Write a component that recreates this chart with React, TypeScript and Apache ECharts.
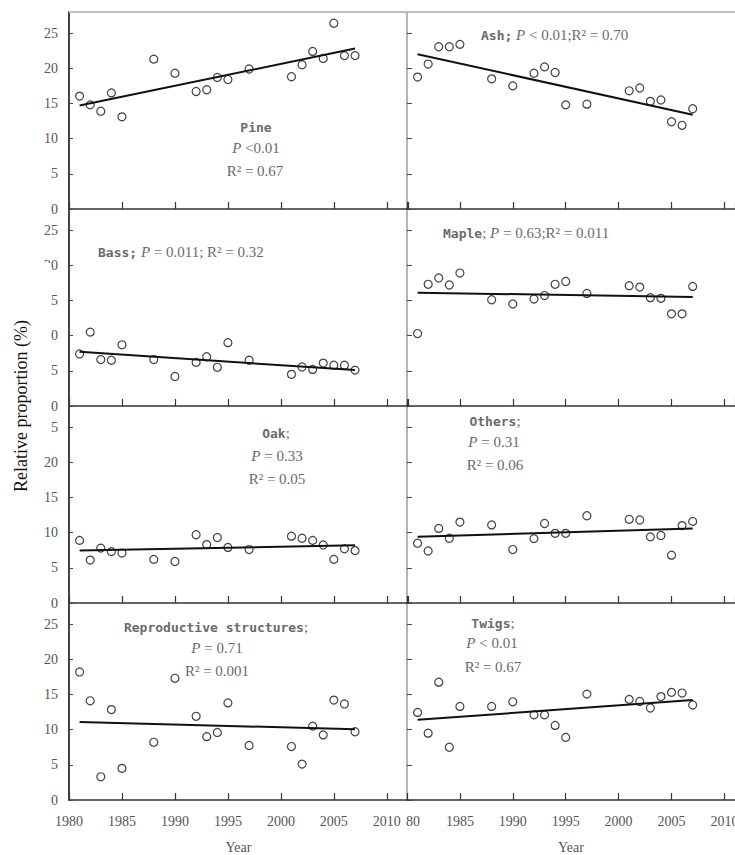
import React, { useEffect, useRef } from "react";
import * as echarts from "echarts";

const years = [1981, 1982, 1983, 1984, 1985, 1988, 1990, 1992, 1993, 1994, 1995, 1997, 2001, 2002, 2003, 2004, 2005, 2006, 2007];
const fitYears = [1981, 2007];

const pine = [16.05, 14.8, 13.9, 16.5, 13.1, 21.3, 19.3, 16.7, 16.95, 18.7, 18.4, 19.9, 18.8, 20.5, 22.4, 21.4, 26.4, 21.8, 21.8];
const pineFit = [14.7, 22.8];
const ash = [18.75, 20.6, 23.06, 23.06, 23.4, 18.5, 17.5, 19.3, 20.2, 19.4, 14.8, 14.9, 16.8, 17.2, 15.3, 15.5, 12.4, 11.9, 14.25];
const ashFit = [22.0, 13.4];
const bass = [7.4, 10.5, 6.6, 6.5, 8.7, 6.6, 4.2, 6.2, 7.0, 5.5, 9.0, 6.5, 4.5, 5.55, 5.2, 6.1, 5.8, 5.8, 5.1];
const bassFit = [7.7, 5.1];
const maple = [10.3, 17.3, 18.2, 17.2, 18.9, 15.1, 14.5, 15.2, 15.7, 17.3, 17.7, 16.0, 17.1, 16.9, 15.4, 15.3, 13.1, 13.1, 17.0];
const mapleFit = [16.1, 15.5];
const oak = [8.9, 6.1, 7.8, 7.3, 7.1, 6.2, 5.9, 9.7, 8.3, 9.3, 7.9, 7.6, 9.5, 9.2, 8.9, 8.25, 6.2, 7.7, 7.45];
const oakFit = [7.45, 8.2];
const others = [8.5, 7.4, 10.6, 9.2, 11.5, 11.1, 7.6, 9.15, 11.3, 9.9, 9.9, 12.4, 11.9, 11.8, 9.4, 9.6, 6.8, 11.0, 11.6];
const othersFit = [9.4, 10.6];
const repro = [18.2, 14.1, 3.3, 12.85, 4.5, 8.2, 17.3, 11.9, 9.0, 9.6, 13.8, 7.75, 7.6, 5.1, 10.5, 9.25, 14.2, 13.65, 9.7];
const reproFit = [11.1, 10.05];
const twigs = [12.45, 9.5, 16.75, 7.5, 13.3, 13.3, 13.96, 12.1, 12.1, 10.6, 8.9, 15.05, 14.3, 14.0, 13.07, 14.7, 15.3, 15.2, 13.5];
const twigsFit = [11.4, 14.2];

const panelValues = [pine, ash, bass, maple, oak, others, repro, twigs];
const panelFits = [pineFit, ashFit, bassFit, mapleFit, oakFit, othersFit, reproFit, twigsFit];

const yTicks = [0, 5, 10, 15, 20, 25];
const xLabelYears = [1980, 1985, 1990, 1995, 2000, 2005, 2010];

const SERIF = "'Liberation Serif', 'Times New Roman', serif";
const MONO = "'DejaVu Sans Mono', 'Liberation Mono', monospace";
const GRAY = "#6a6a6a";

export default function App() {
  const ref = useRef<HTMLDivElement>(null);

  useEffect(() => {
    if (!ref.current) return;
    const chart = echarts.init(ref.current, undefined, { renderer: "svg" });

    const grids: any[] = [];
    const xAxes: any[] = [];
    const yAxes: any[] = [];
    const series: any[] = [];

    for (let i = 0; i < 8; i++) {
      const row = Math.floor(i / 2);
      const col = i % 2;
      grids.push({
        left: col === 0 ? 69 : 407,
        top: 12 + row * 197,
        width: col === 0 ? 339 : 328,
        height: 197,
        containLabel: false,
        outerBoundsMode: "none",
      });
      xAxes.push({
        type: "value",
        gridIndex: i,
        min: 1980,
        max: col === 0 ? 2012 : 2011,
        interval: 5,
        axisLine: { show: true, lineStyle: { color: "#333", width: 1.5 } },
        axisTick: { show: true, inside: true, length: 7, lineStyle: { color: "#333", width: 1.2 } },
        splitLine: { show: false },
        axisLabel: {
          show: row === 3,
          margin: 14,
          color: "#555",
          fontFamily: SERIF,
          fontSize: 14,
          showMaxLabel: false,
          formatter: (v: number) => {
            if (!xLabelYears.includes(v)) return "";
            if (col === 1 && v === 1980) return "{s|80}";
            return String(v);
          },
          rich: { s: { padding: [0, 0, 0, 12], fontFamily: SERIF, fontSize: 14, color: "#555" } },
        },
        name: row === 3 ? "Year" : "",
        nameLocation: "middle",
        nameGap: 40,
        nameTextStyle: { fontFamily: SERIF, fontSize: 14, color: "#555" },
      });
      yAxes.push({
        type: "value",
        gridIndex: i,
        min: 0,
        max: 28,
        interval: 5,
        axisLine: { show: true, lineStyle: { color: col === 0 ? "#444" : "#b5b5b5", width: 2 } },
        axisTick: { show: true, inside: true, length: col === 0 ? 4 : 5, lineStyle: { color: "#444", width: 1 } },
        splitLine: { show: false },
        axisLabel: {
          show: col === 0,
          margin: 11,
          color: "#555",
          fontFamily: SERIF,
          fontSize: 14,
          showMaxLabel: false,
          formatter: (v: number) => (yTicks.includes(v) ? String(v) : ""),
        },
      });
      const vals = panelValues[i];
      series.push({
        type: "line",
        xAxisIndex: i,
        yAxisIndex: i,
        data: fitYears.map((y, k) => [y, panelFits[i][k]]),
        symbol: "none",
        lineStyle: { color: "#111", width: 2 },
        z: 2,
      });
      series.push({
        type: "scatter",
        xAxisIndex: i,
        yAxisIndex: i,
        data: years.map((y, k) => [y, vals[k]]),
        symbol: "circle",
        symbolSize: 8,
        itemStyle: { color: "rgba(255,255,255,0)", borderColor: "#111", borderWidth: 1.2 },
        z: 3,
      });
    }

    const rich = {
      b: { fontFamily: MONO, fontWeight: "bold", fontSize: 13, color: "#111" },
      p: { fontFamily: SERIF, fontStyle: "italic", fontSize: 15, color: GRAY },
      g: { fontFamily: SERIF, fontSize: 15, color: GRAY },
    };
    const txt = (x: number, y: number, text: string, align = "center") => ({
      type: "text",
      x,
      y,
      z: 50,
      style: { text, rich, align, verticalAlign: "middle", fontFamily: SERIF, fontSize: 15, fill: GRAY },
    });

    const graphic: any[] = [
      { type: "line", z: 40, shape: { x1: 69, y1: 12, x2: 735, y2: 12 }, style: { stroke: "#bdbdbd", lineWidth: 2 } },
      { type: "rect", z: 45, shape: { x: 41, y: 263, width: 10, height: 174 }, style: { fill: "#fff" } },
      {
        type: "text",
        x: 21,
        y: 406,
        rotation: Math.PI / 2,
        z: 50,
        style: {
          text: "Relative proportion (%)",
          fontFamily: SERIF,
          fontSize: 18,
          fill: "#111",
          align: "center",
          verticalAlign: "middle",
        },
      },
      txt(256, 127, "{b|Pine}"),
      txt(256, 148, "{p|P} {g|<0.01}"),
      txt(255, 171, "{g|R² = 0.67}"),
      txt(481, 35, "{b|Ash;} {p|P} {g|< 0.01;R² = 0.70}", "left"),
      txt(98, 252, "{b|Bass;} {p|P} {g|= 0.011; R² = 0.32}", "left"),
      txt(443, 233, "{b|Maple}{g|;} {p|P} {g|= 0.63;R² = 0.011}", "left"),
      txt(276, 433, "{b|Oak}{g|;}"),
      txt(277, 456, "{p|P} {g|= 0.33}"),
      txt(277, 479, "{g|R² = 0.05}"),
      txt(495, 421, "{b|Others}{g|;}"),
      txt(494, 442, "{p|P} {g|= 0.31}"),
      txt(495, 465, "{g|R² = 0.06}"),
      txt(216, 627, "{b|Reproductive structures}{g|;}"),
      txt(217, 648, "{p|P} {g|= 0.71}"),
      txt(217, 671, "{g|R² = 0.001}"),
      txt(493, 623, "{b|Twigs}{g|;}"),
      txt(492, 643, "{p|P} {g|< 0.01}"),
      txt(493, 667, "{g|R² = 0.67}"),
    ];

    chart.setOption({
      animation: false,
      backgroundColor: "#fff",
      grid: grids,
      xAxis: xAxes,
      yAxis: yAxes,
      series,
      graphic,
    });

    return () => chart.dispose();
  }, []);

  return (
    <div
      ref={ref}
      style={{ position: "fixed", left: 0, top: 0, width: 735, height: 855, background: "#fff" }}
    />
  );
}
